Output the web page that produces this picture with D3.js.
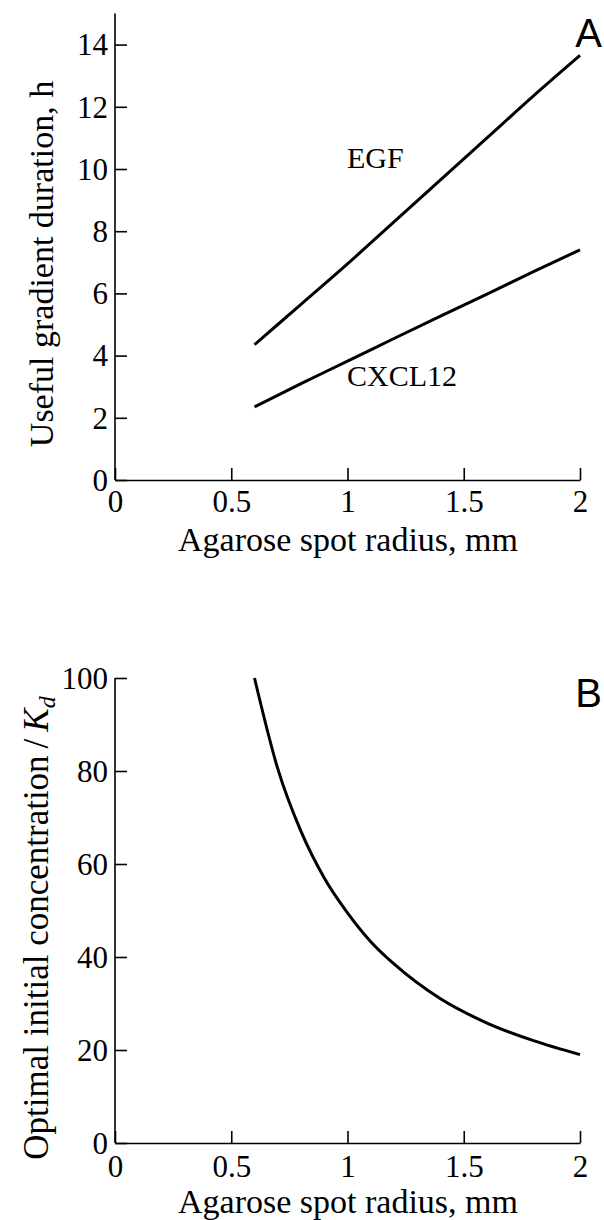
<!DOCTYPE html>
<html>
<head>
<meta charset="utf-8">
<script src="https://cdn.jsdelivr.net/npm/d3@7"></script>
<style>
  body { margin: 0; background: #fff; }
  svg text { font-family: "Liberation Serif", "Times New Roman", serif; fill: #000; }
  .axis path, .axis line { stroke: #000; stroke-width: 1.6px; }
  .axis text { font-family: "Liberation Serif", "Times New Roman", serif; font-size: 31px; }
</style>
</head>
<body>
<svg id="chart" width="604" height="1220"></svg>
<script>
// panel A: useful gradient duration (h) vs agarose spot radius (mm)
var radiusA = [0.6, 0.8, 1.0, 1.2, 1.4, 1.6, 1.8, 2.0];
var egf = [4.35, 5.65, 6.95, 8.3, 9.65, 11.0, 12.35, 13.65];
var cxcl12 = [2.35, 3.1, 3.82, 4.55, 5.27, 5.98, 6.7, 7.4];

// panel B: optimal initial concentration / Kd
var radiusB = [0.6, 0.7, 0.8, 0.9, 1.0, 1.1, 1.2, 1.4, 1.6, 1.8, 2.0];
var optConc = [100, 80.5, 67, 57, 49.5, 43.3, 38.5, 31, 25.8, 22, 19];

var xTicks = [0, 0.5, 1, 1.5, 2];
var yTicksA = [0, 2, 4, 6, 8, 10, 12, 14];
var yTicksB = [0, 20, 40, 60, 80, 100];

var svg = d3.select("#chart");

var left = 115, right = 580;
var x = d3.scaleLinear().domain([0, 2]).range([left, right]);

var yA = d3.scaleLinear().domain([0, 15]).range([480, 13.5]);
var yB = d3.scaleLinear().domain([0, 100]).range([1143, 678]);

function drawPanel(y, yTicks, bottom, top, labelDrop) {
    var gx = svg.append("g")
        .attr("class", "axis")
        .attr("transform", "translate(0," + bottom + ")")
        .call(d3.axisBottom(x).tickValues(xTicks).tickSizeInner(-12).tickSizeOuter(0)
            .tickFormat(function (d) { return d; }));
    // baseline of the tick labels below the axis
    gx.selectAll("text").attr("y", labelDrop).attr("dy", null);

    var gy = svg.append("g")
        .attr("class", "axis")
        .attr("transform", "translate(" + left + ",0)")
        .call(d3.axisLeft(y).tickValues(yTicks).tickSizeInner(-12).tickSizeOuter(0).tickPadding(7));
    gy.selectAll("text").attr("dy", "0.33em");
    gy.select(".domain").attr("d", "M0," + top + "V" + bottom);
}

drawPanel(yA, yTicksA, 480, 13.5, 32);
drawPanel(yB, yTicksB, 1143, 678, 34);

var line = function (xs, y) {
    return d3.line()
        .x(function (d, i) { return x(xs[i]); })
        .y(function (d) { return y(d); })
        .curve(d3.curveMonotoneX);
};

svg.append("path").datum(egf)
    .attr("d", line(radiusA, yA))
    .attr("fill", "none").attr("stroke", "#000").attr("stroke-width", 3);
svg.append("path").datum(cxcl12)
    .attr("d", line(radiusA, yA))
    .attr("fill", "none").attr("stroke", "#000").attr("stroke-width", 3);
svg.append("path").datum(optConc)
    .attr("d", line(radiusB, yB))
    .attr("fill", "none").attr("stroke", "#000").attr("stroke-width", 3);

// curve labels
svg.append("text").attr("x", 347).attr("y", 168).attr("font-size", 30).text("EGF");
svg.append("text").attr("x", 347).attr("y", 386).attr("font-size", 30).text("CXCL12");

// panel letters
svg.append("text").attr("x", 602).attr("y", 47).attr("text-anchor", "end")
    .style("font-family", "'Liberation Sans', Arial, sans-serif").attr("font-size", 40).text("A");
svg.append("text").attr("x", 602).attr("y", 707).attr("text-anchor", "end")
    .style("font-family", "'Liberation Sans', Arial, sans-serif").attr("font-size", 40).text("B");

// axis titles
svg.append("text").attr("x", 348).attr("y", 551).attr("text-anchor", "middle")
    .attr("font-size", 34).text("Agarose spot radius, mm");
svg.append("text").attr("x", 348).attr("y", 1213).attr("text-anchor", "middle")
    .attr("font-size", 34).text("Agarose spot radius, mm");

svg.append("text").attr("transform", "translate(53,264) rotate(-90)")
    .attr("text-anchor", "middle").attr("font-size", 34).text("Useful gradient duration, h");

var tB = svg.append("text").attr("transform", "translate(48,928) rotate(-90)")
    .attr("text-anchor", "middle").attr("font-size", 35);
tB.append("tspan").text("Optimal initial concentration\u2009/\u2009");
tB.append("tspan").attr("font-style", "italic").text("K");
tB.append("tspan").attr("font-style", "italic").attr("font-size", 24).attr("dy", 7).text("d");
</script>
</body>
</html>
